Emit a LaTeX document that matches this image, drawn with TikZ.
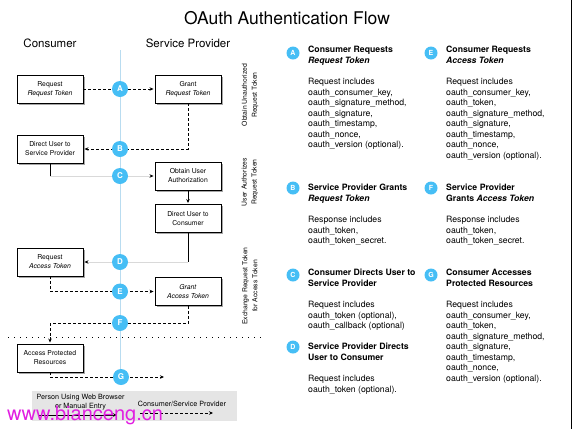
\documentclass[tikz,border=0pt]{standalone}
\usepackage{fontspec}
\setmainfont{TeX Gyre Heros}
\usepackage{tikz}
\usepackage{xcolor}
\usetikzlibrary{arrows.meta,shadows}

\definecolor{stepblue}{RGB}{70,190,245}
\definecolor{lanecol}{RGB}{185,220,240}
\definecolor{wmark}{RGB}{225,30,225}

\tikzstyle{proc} = [rectangle, draw, fill=white, line width=0.9pt, minimum width=66pt, minimum height=28pt, align=center, font=\fontsize{6.8}{9}\selectfont, drop shadow={shadow xshift=1.5pt, shadow yshift=-1.5pt, fill=black, opacity=0.35}]
\tikzstyle{lanestep} = [circle, fill=stepblue, text=white, minimum size=16pt, inner sep=0pt, font=\fontsize{8}{8}\selectfont\bfseries]
\tikzstyle{keystep} = [lanestep, minimum size=13pt, font=\fontsize{7}{7}\selectfont\bfseries]
\tikzstyle{token} = [dash pattern=on 3pt off 2pt, line width=0.8pt, -{Stealth[length=4pt,width=3.5pt]}, shorten >=1pt]
\tikzstyle{usermove} = [line width=0.8pt]
\tikzstyle{faint} = [line width=0.8pt, draw=black!15, -{Stealth[black,length=4pt,width=3.5pt]}, shorten >=1pt]
\tikzstyle{info} = [anchor=north west, inner sep=0pt, align=left, font=\fontsize{8.7}{10.5}\selectfont]
\tikzstyle{phase} = [rotate=90, align=center, inner sep=0pt, font=\fontsize{6.8}{10}\selectfont]
\tikzstyle{heading} = [font=\fontsize{11.5}{12}\selectfont]
\tikzstyle{legendtext} = [align=center, inner sep=0pt, font=\fontsize{7.2}{9}\selectfont]

\begin{document}
\begin{tikzpicture}[x=1pt,y=-1pt,node distance=138pt]
  \useasboundingbox (0,0) rectangle (572,429);
  \draw[line width=1pt] (571.5,0) -- (571.5,429);

  \node[font=\fontsize{17.5}{18}\selectfont] (title) at (287,18) {OAuth Authentication Flow};
  \node[heading] (cons) at (50,43) {Consumer};
  \node[heading] (serv) at (188,43) {Service Provider};

  % lane between consumer and provider
  \draw[lanecol, line width=1pt] (120,50) -- (120,377);
  \draw[dash pattern=on 0.8pt off 5.2pt, line width=0.9pt] (8,337) -- (265,337);

  \node[proc] (rrt) at (50,89) {Request\\\textit{Request Token}};
  \node[proc] (grt) [right of=rrt] {Grant\\\textit{Request Token}};
  \node[proc] (dusp) at (50,149) {Direct User to\\Service Provider};
  \node[proc] (oua) at (188,176) {Obtain User\\Authorization};
  \node[proc] (duc) at (188,218.5) {Direct User to\\Consumer};
  \node[proc] (rat) at (50,262) {Request\\\textit{Access Token}};
  \node[proc] (gat) [right of=rat, yshift=-29.5pt] {\textit{Grant}\\\textit{Access Token}};
  \node[proc] (apr) at (50,358) {Access Protected\\Resources};
  \coordinate (gend) at (165,377);

  \draw[token] (rrt) -- (grt);
  \draw[token] (grt.south) |- (dusp.east);
  \draw[usermove] (dusp.south) -- (dusp.south |- oua.west);
  \draw[faint] (dusp.south |- oua.west) -- (oua.west);
  \draw[usermove, -{Stealth[length=4pt,width=3.5pt]}, shorten >=1pt] (oua) -- (duc);
  \draw[usermove] (duc.south) -- (duc.south |- rat.east);
  \draw[faint] (duc.south |- rat.east) -- (rat.east);
  \draw[token] (rat.south) |- (gat.west);
  \draw[token] (gat.south) -- ++(0,17.5) -| (apr.north);
  \draw[token] (apr.south) |- (gend);

  \node[lanestep] (stepA) at (120,89) {A};
  \node[lanestep] (stepB) at (120,149) {B};
  \node[lanestep] (stepC) at (120,176) {C};
  \node[lanestep] (stepD) at (120,262) {D};
  \node[lanestep] (stepE) at (120,291.5) {E};
  \node[lanestep] (stepF) at (120,323) {F};
  \node[lanestep] (stepG) at (121,377) {G};

  \node[phase] (phaseA) at (250,95) {Obtain Unauthorized\\Request Token};
  \node[phase] (phaseC) at (250,182) {User Authorizes\\Request Token};
  \node[phase] (phaseE) at (250,286) {Exchange Request Token\\for Access Token};

  % key to the steps
  \node[keystep] (keyA) at (293,53) {A};
  \node[info] (infoA) at (308,46) {\textbf{Consumer Requests}\\\textbf{\textit{Request Token}}\\[11pt]Request includes\\oauth\_consumer\_key,\\oauth\_signature\_method,\\oauth\_signature,\\oauth\_timestamp,\\oauth\_nonce,\\oauth\_version (optional).};
  \node[keystep] (keyB) at (293,188) {B};
  \node[info] (infoB) at (308,184) {\textbf{Service Provider Grants}\\\textbf{\textit{Request Token}}\\[11pt]Response includes\\oauth\_token,\\oauth\_token\_secret.};
  \node[keystep] (keyC) at (293,275) {C};
  \node[info] (infoC) at (308,269) {\textbf{Consumer Directs User to}\\\textbf{Service Provider}\\[11pt]Request includes\\oauth\_token (optional),\\oauth\_callback (optional)};
  \node[keystep] (keyD) at (293,347) {D};
  \node[info] (infoD) at (308,343) {\textbf{Service Provider Directs}\\\textbf{User to Consumer}\\[11pt]Request includes\\oauth\_token (optional).};
  \node[keystep] (keyE) at (431,53) {E};
  \node[info] (infoE) at (446,46) {\textbf{Consumer Requests}\\\textbf{\textit{Access Token}}\\[11pt]Request includes\\oauth\_consumer\_key,\\oauth\_token,\\oauth\_signature\_method,\\oauth\_signature,\\oauth\_timestamp,\\oauth\_nonce,\\oauth\_version (optional).};
  \node[keystep] (keyF) at (431,188) {F};
  \node[info] (infoF) at (446,184) {\textbf{Service Provider}\\\textbf{Grants \textit{Access Token}}\\[11pt]Response includes\\oauth\_token,\\oauth\_token\_secret.};
  \node[keystep] (keyG) at (431,275) {G};
  \node[info] (infoG) at (446,269) {\textbf{Consumer Accesses}\\\textbf{Protected Resources}\\[11pt]Request includes\\oauth\_consumer\_key,\\oauth\_token,\\oauth\_signature\_method,\\oauth\_signature,\\oauth\_timestamp,\\oauth\_nonce,\\oauth\_version (optional).};

  % legend
  \fill[black!10] (32,391) rectangle (237,421);
  \node[legendtext] (browser) at (80.5,402.5) {Person Using Web Browser\\or Manual Entry};
  \node[legendtext] (cspnote) at (182,404) {Consumer/Service Provider};
  \coordinate (bstart) at (38,415);
  \coordinate (bend) at (117,415);
  \coordinate (cstart) at (140,413);
  \coordinate (cend) at (214,413);
  \draw[usermove, -{Stealth[length=4pt,width=3.5pt]}] (bstart) -- (bend);
  \draw[token] (cstart) -- (cend);

  \node[text=wmark, font=\fontsize{20}{20}\selectfont, anchor=base west, inner sep=0pt] (wm) at (7,420) {www.bianceng.cn};
\end{tikzpicture}
\end{document}
